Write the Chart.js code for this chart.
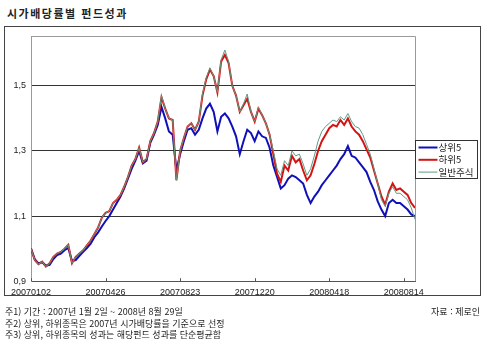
<!DOCTYPE html>
<html lang="ko">
<head>
<meta charset="utf-8">
<title>시가배당률별 펀드성과</title>
<script src="https://cdn.jsdelivr.net/npm/chart.js@4.4.1/dist/chart.umd.min.js"></script>
<style>
  html, body { margin: 0; padding: 0; background: #fff; }
  body { width: 486px; height: 349px; position: relative; overflow: hidden;
         font-family: "Noto Sans CJK KR", sans-serif; color: #222; }
  #title  { position: absolute; left: 7px; top: 8px; font-size: 11px; line-height: 11px;
            font-weight: bold; letter-spacing: 1.5px; }
  #frame  { position: absolute; left: 4px; top: 26px; width: 475px; height: 268px; border: 1px solid #444; }
  #chart  { position: absolute; left: 0; top: 0; }
  .note   { position: absolute; left: 5px; font-size: 9px; line-height: 9px; white-space: nowrap; }
  .src    { left: auto; right: 6px; }
</style>
</head>
<body>
<div id="title">시가배당률별 펀드성과</div>
<div id="frame"></div>
<canvas id="chart" width="486" height="349"></canvas>
<div class="note" style="top:307px">주1) 기간 : 2007년 1월 2일 ~ 2008년 8월 29일</div>
<div class="note src" style="top:307px">자료 : 제로인</div>
<div class="note" style="top:319px">주2) 상위, 하위종목은 2007년 시가배당률을 기준으로 선정</div>
<div class="note" style="top:330px">주3) 상위, 하위종목의 성과는 해당펀드 성과를 단순평균함</div>

<script>
// ── Data (one value every 4 trading days, starting 2007-01-02) ──
const SAMPLE_STEP = 4;
const X_TICK_STEP = 80;
const X_TICK_LABELS = ['20070102', '20070426', '20070823', '20071220', '20080418', '20080814'];
const Y_TICKS = [0.9, 1.1, 1.3, 1.5];

const TOP5 = [
  1.000, 0.968, 0.955, 0.958, 0.948, 0.950, 0.968, 0.980, 0.985, 0.995,
  1.002, 0.962, 0.965, 0.978, 0.990, 1.002, 1.015, 1.035, 1.050, 1.068,
  1.085, 1.100, 1.120, 1.140, 1.160, 1.185, 1.215, 1.245, 1.270, 1.300,
  1.262, 1.270, 1.325, 1.350, 1.380, 1.435, 1.400, 1.360, 1.350, 1.240,
  1.290, 1.330, 1.365, 1.370, 1.350, 1.365, 1.400, 1.430, 1.445, 1.420,
  1.360, 1.405, 1.415, 1.400, 1.375, 1.345, 1.290, 1.330, 1.365, 1.355,
  1.330, 1.360, 1.345, 1.340, 1.310, 1.255, 1.220, 1.185, 1.195, 1.215,
  1.225, 1.220, 1.210, 1.200, 1.165, 1.140, 1.160, 1.175, 1.195, 1.210,
  1.225, 1.240, 1.255, 1.275, 1.290, 1.315, 1.285, 1.280, 1.265, 1.250,
  1.235, 1.205, 1.180, 1.145, 1.120, 1.100, 1.140, 1.150, 1.140, 1.140,
  1.130, 1.120, 1.105, 1.100
];

const BOTTOM5 = [
  1.000, 0.965, 0.952, 0.960, 0.945, 0.955, 0.975, 0.985, 0.990, 1.000,
  1.012, 0.955, 0.975, 0.985, 0.995, 1.010, 1.025, 1.045, 1.065, 1.095,
  1.110, 1.115, 1.140, 1.150, 1.165, 1.190, 1.220, 1.255, 1.275, 1.310,
  1.265, 1.275, 1.330, 1.355, 1.390, 1.465, 1.430, 1.400, 1.395, 1.210,
  1.300, 1.340, 1.375, 1.385, 1.365, 1.390, 1.470, 1.520, 1.550, 1.530,
  1.480, 1.575, 1.595, 1.570, 1.500, 1.470, 1.420, 1.440, 1.460, 1.420,
  1.390, 1.430, 1.410, 1.385, 1.350, 1.290, 1.230, 1.205, 1.255, 1.240,
  1.285, 1.265, 1.275, 1.240, 1.210, 1.225, 1.260, 1.300, 1.330, 1.350,
  1.370, 1.380, 1.375, 1.395, 1.380, 1.400, 1.375, 1.360, 1.350, 1.330,
  1.305, 1.280, 1.240, 1.200, 1.160, 1.135, 1.175, 1.200, 1.180, 1.185,
  1.175, 1.165, 1.140, 1.125
];

const EQUITY = [
  1.000, 0.965, 0.952, 0.960, 0.945, 0.955, 0.975, 0.985, 0.990, 1.000,
  1.012, 0.955, 0.975, 0.985, 0.995, 1.010, 1.025, 1.045, 1.065, 1.095,
  1.110, 1.115, 1.140, 1.150, 1.165, 1.190, 1.220, 1.255, 1.275, 1.310,
  1.265, 1.275, 1.330, 1.355, 1.390, 1.470, 1.430, 1.400, 1.395, 1.210,
  1.300, 1.340, 1.375, 1.385, 1.365, 1.390, 1.475, 1.525, 1.555, 1.530,
  1.480, 1.580, 1.610, 1.575, 1.500, 1.470, 1.420, 1.445, 1.475, 1.420,
  1.390, 1.435, 1.410, 1.385, 1.350, 1.300, 1.245, 1.225, 1.270, 1.255,
  1.300, 1.285, 1.290, 1.260, 1.225, 1.245, 1.285, 1.330, 1.360, 1.375,
  1.385, 1.395, 1.390, 1.405, 1.395, 1.415, 1.390, 1.375, 1.370, 1.350,
  1.320, 1.290, 1.245, 1.200, 1.150, 1.130, 1.170, 1.190, 1.170, 1.170,
  1.160, 1.150, 1.125, 1.090
];

const toPoints = arr => arr.map((v, i) => ({ x: i * SAMPLE_STEP, y: v }));

// ── Plot frame, inner tick marks and boxed legend ─────────
const frameAndLegend = {
  id: 'frameAndLegend',
  beforeDatasetsDraw(chart) {
    const { ctx, chartArea: a } = chart;
    ctx.save();
    ctx.strokeStyle = '#9a9a9a';
    ctx.lineWidth = 1;
    ctx.beginPath();
    ctx.moveTo(a.left + 0.5, a.bottom);
    ctx.lineTo(a.left + 0.5, a.top + 0.5);
    ctx.lineTo(a.right + 0.5, a.top + 0.5);
    ctx.lineTo(a.right + 0.5, a.bottom);
    ctx.stroke();
    // small ticks pointing into the plot
    const xs = chart.scales.x;
    ctx.strokeStyle = '#555';
    xs.ticks.forEach(t => {
      const px = Math.round(xs.getPixelForValue(t.value)) + 0.5;
      ctx.beginPath();
      ctx.moveTo(px, a.bottom);
      ctx.lineTo(px, a.bottom - 3);
      ctx.stroke();
    });
    ctx.restore();
  },
  afterDraw(chart) {
    const { ctx, chartArea: a } = chart;
    const w = 62, h = 38;
    const left = Math.round(a.right) + 0.5;
    const top = Math.round((a.top + a.bottom) / 2 - h / 2) + 0.5;
    ctx.save();
    ctx.fillStyle = '#fff';
    ctx.fillRect(left, top, w, h);
    ctx.strokeStyle = '#333';
    ctx.lineWidth = 1;
    ctx.strokeRect(left, top, w, h);
    ctx.font = '9.5px "Noto Sans CJK KR"';
    ctx.textBaseline = 'middle';
    ctx.fillStyle = '#222';
    chart.data.datasets.forEach((ds, i) => {
      const y = top + 7 + i * 12.3;
      ctx.strokeStyle = ds.borderColor;
      ctx.lineWidth = ds.borderWidth;
      ctx.beginPath();
      ctx.moveTo(left + 3, y);
      ctx.lineTo(left + 22, y);
      ctx.stroke();
      ctx.fillText(ds.label, left + 23, y);
    });
    ctx.restore();
  }
};

const tickFont = { family: '"Liberation Sans", Arial, sans-serif', size: 9 };

new Chart(document.getElementById('chart'), {
  type: 'line',
  data: {
    datasets: [
      { label: '상위5', data: toPoints(TOP5), borderColor: '#1010b8', borderWidth: 2, order: 2 },
      { label: '하위5', data: toPoints(BOTTOM5), borderColor: '#d41414', borderWidth: 2, order: 1 },
      { label: '일반주식', data: toPoints(EQUITY), borderColor: '#5f9a84', borderWidth: 1, order: 0 }
    ]
  },
  options: {
    responsive: false,
    animation: false,
    events: [],
    layout: { padding: { left: 11, top: 36, right: 71, bottom: 45 } },
    elements: { point: { radius: 0 }, line: { tension: 0 } },
    plugins: { legend: { display: false }, tooltip: { enabled: false } },
    scales: {
      x: {
        type: 'linear',
        min: 0,
        max: 412,
        afterBuildTicks: s => { s.ticks = X_TICK_LABELS.map((_, i) => ({ value: i * X_TICK_STEP })); },
        ticks: {
          callback: v => X_TICK_LABELS[Math.round(v / X_TICK_STEP)],
          autoSkip: false, maxRotation: 0, padding: 6,
          font: tickFont, color: '#222'
        },
        grid: { color: 'rgba(0,0,0,0)', drawTicks: false },
        border: { color: '#555' }
      },
      y: {
        min: 0.9,
        max: 1.653,
        afterBuildTicks: s => { s.ticks = Y_TICKS.map(v => ({ value: v })); },
        afterFit: s => { s.width = 20; },
        ticks: {
          callback: v => v.toFixed(1).replace('.', ','),
          padding: 5, font: tickFont, color: '#222'
        },
        grid: {
          drawTicks: false,
          color: c => (c.tick && c.tick.value === 0.9) ? 'rgba(0,0,0,0)' : '#333'
        },
        border: { color: '#9a9a9a' }
      }
    }
  },
  plugins: [frameAndLegend]
});
</script>
</body>
</html>
